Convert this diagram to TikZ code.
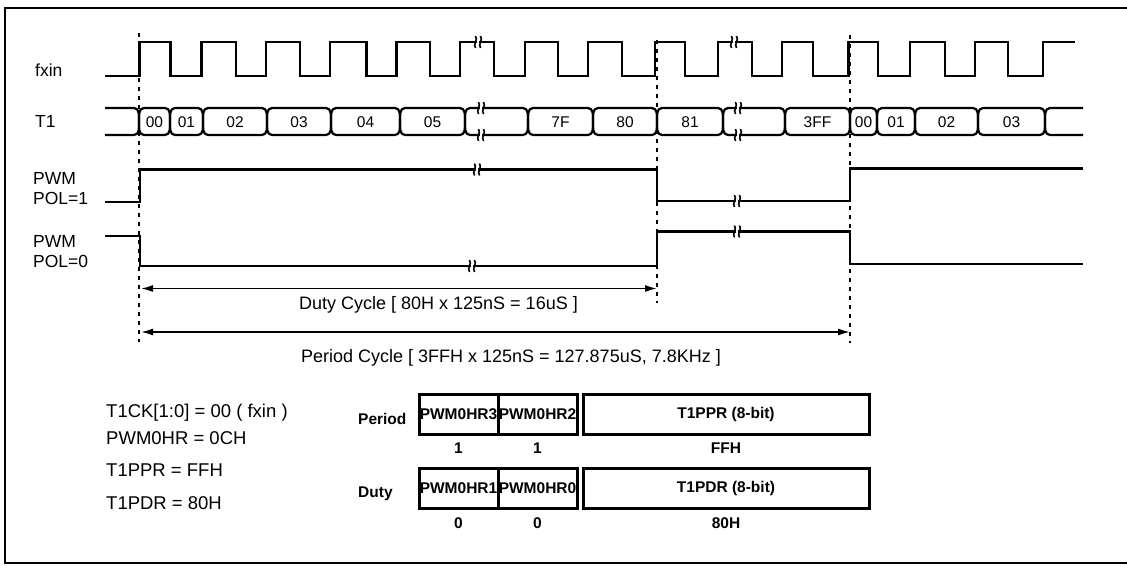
\documentclass[tikz,border=0pt]{standalone}
\usepackage{fontspec}
\setmainfont{Liberation Sans}
\usetikzlibrary{arrows.meta}
\tikzset{
  sig/.style={line width=2.8pt, line join=miter},
  bus/.style={line width=2.2pt},
  vline/.style={line width=2pt, dash pattern=on 4pt off 5pt},
  frame/.style={line width=2pt},
  arr/.style={line width=1.6pt, {Latex[length=12pt,width=7pt]}-{Latex[length=12pt,width=7pt]}},
  lbl/.style={font=\fontsize{17.5}{19}\selectfont, anchor=west, inner sep=0pt},
  val/.style={font=\fontsize{15.5}{17}\selectfont, inner sep=0pt},
  note/.style={font=\fontsize{18}{20}\selectfont, inner sep=0pt},
  cfg/.style={font=\fontsize{18.5}{20}\selectfont, anchor=west, inner sep=0pt},
  bold/.style={font=\fontsize{15.5}{17}\selectfont\bfseries, inner sep=0pt},
  reg/.style={draw, line width=3pt, minimum height=40pt, inner sep=0pt, font=\fontsize{15.5}{17}\selectfont\bfseries},
  brk/.pic={
    \fill[white] (-1.2,-3.5) rectangle (1.2,3.5);
    \draw[line width=1.6pt] (-2.5,6) .. controls (-5.5,2) and (0.5,-2) .. (-2.5,-6);
    \draw[line width=1.6pt] (2.5,6) .. controls (-0.5,2) and (5.5,-2) .. (2.5,-6);
  }
}
\begin{document}
\begin{tikzpicture}[x=1pt,y=-1pt]
\useasboundingbox (0,0) rectangle (1127,565);
% frame
\draw[frame] (1127,8) -- (5,8) -- (5,563) -- (1127,563);

% signal labels
\node[lbl] (lfx) at (35,70) {fxin};
\node[lbl] (lt1) at (35,121) {T1};
\node[lbl] (lp1a) at (33,178) {PWM};
\node[lbl] (lp1b) at (33,198.5) {POL=1};
\node[lbl] (lp0a) at (33,241) {PWM};
\node[lbl] (lp0b) at (33,261.5) {POL=0};

% dashed markers
\draw[vline] (139,33) -- (139,342);
\draw[vline] (657,40) -- (657,303);
\draw[vline] (850,35) -- (850,343);

% fxin clock
\draw[sig] (105,76) -- (139.5,76) -- (139.5,42) -- (170.5,42) -- (170.5,76)
  -- (201.5,76) -- (201.5,42) -- (236,42) -- (236,76)
  -- (266,76) -- (266,42) -- (300,42) -- (300,76)
  -- (330,76) -- (330,42) -- (366.5,42) -- (366.5,76)
  -- (396.5,76) -- (396.5,42) -- (430,42) -- (430,76)
  -- (460,76) -- (460,42) -- (494,42) -- (494,76)
  -- (525,76) -- (525,42) -- (558,42) -- (558,76)
  -- (588,76) -- (588,42) -- (622,42) -- (622,76)
  -- (655,76) -- (655,42) -- (685,42) -- (685,76)
  -- (718,76) -- (718,42) -- (752,42) -- (752,76)
  -- (782,76) -- (782,42) -- (813,42) -- (813,76)
  -- (848.5,76) -- (848.5,42) -- (878,42) -- (878,76)
  -- (910,76) -- (910,42) -- (945,42) -- (945,76)
  -- (975,76) -- (975,42) -- (1008,42) -- (1008,76)
  -- (1043,76) -- (1043,42) -- (1075,42);
\pic at (478,42) {brk};
\pic at (734,42) {brk};

% T1 bus
\draw[bus] (105,108) -- (134,108) to[out=0,in=90] (139,121.5) to[out=-90,in=0] (134,135) -- (105,135);
\foreach \a/\b/\t [count=\i] in {139/170/00,170/203/01,203/267/02,267/331/03,331/400/04,400/465/05,465/528/,528/593/7F,593/657/80,657/723/81,723/785/,785/850/3FF,850/877/00,877/915/01,915/978/02,978/1045/03}{
  \draw[bus] (\a+5,108) -- (\b-5,108) to[out=0,in=90] (\b,121.5) to[out=-90,in=0] (\b-5,135)
    -- (\a+5,135) to[out=180,in=-90] (\a,121.5) to[out=90,in=180] cycle;
  \node[val] (c\i) at ({(\a+\b)/2},122) {\t};
}
\draw[bus] (1083,108) -- (1050,108) to[out=180,in=90] (1045,121.5) to[out=-90,in=180] (1050,135) -- (1083,135);
\pic at (481,108) {brk};
\pic at (481,135) {brk};
\pic at (738,108) {brk};
\pic at (738,135) {brk};

% PWM POL=1
\draw[sig] (105,202) -- (140,202) -- (140,169.5) -- (657,169.5) -- (657,201) -- (850,201) -- (850,168.5) -- (1083,168.5);
\pic at (477,169.5) {brk};
\pic at (737,201) {brk};
% PWM POL=0
\draw[sig] (105,236) -- (140,236) -- (140,266) -- (657,266) -- (657,231.5) -- (850,231.5) -- (850,264) -- (1083,264);
\pic at (472,266) {brk};
\pic at (737,231.5) {brk};

% duty / period arrows
\coordinate (d0) at (141,288.5);
\coordinate (d1) at (657,288.5);
\draw[arr] (d0) -- (d1);
\node[note] (dtxt) at (438.5,305) {Duty Cycle [ 80H x 125nS = 16uS ]};
\coordinate (p0) at (141,332);
\coordinate (p1) at (850,332);
\draw[arr] (p0) -- (p1);
\node[note] (ptxt) at (511,358) {Period Cycle [ 3FFH x 125nS = 127.875uS, 7.8KHz ]};

% configuration text
\node[cfg] (k1) at (106,413) {T1CK[1:0] = 00 ( fxin )};
\node[cfg] (k2) at (106,438) {PWM0HR = 0CH};
\node[cfg] (k3) at (106,470) {T1PPR = FFH};
\node[cfg] (k4) at (106,503) {T1PDR = 80H};

% registers
\node[bold, anchor=west] (lper) at (358,419) {Period};
\node[bold, anchor=west] (ldut) at (358,494) {Duty};
\node[reg, minimum width=79pt] (r3) at (458.5,414) {PWM0HR3};
\node[reg, minimum width=79pt] (r2) at (537.5,414) {PWM0HR2};
\node[reg, minimum width=286pt] (rp) at (726,414) {T1PPR (8-bit)};
\node[reg, minimum width=79pt] (r1) at (458.5,488.5) {PWM0HR1};
\node[reg, minimum width=79pt] (r0) at (537.5,488.5) {PWM0HR0};
\node[reg, minimum width=286pt] (rd) at (726,488.5) {T1PDR (8-bit)};
\node[bold] (v3) at (458.5,448) {1};
\node[bold] (v2) at (537.5,448) {1};
\node[bold] (vp) at (726,448) {FFH};
\node[bold] (v1) at (458.5,523) {0};
\node[bold] (v0) at (537.5,523) {0};
\node[bold] (vd) at (726,523) {80H};
\end{tikzpicture}
\end{document}
